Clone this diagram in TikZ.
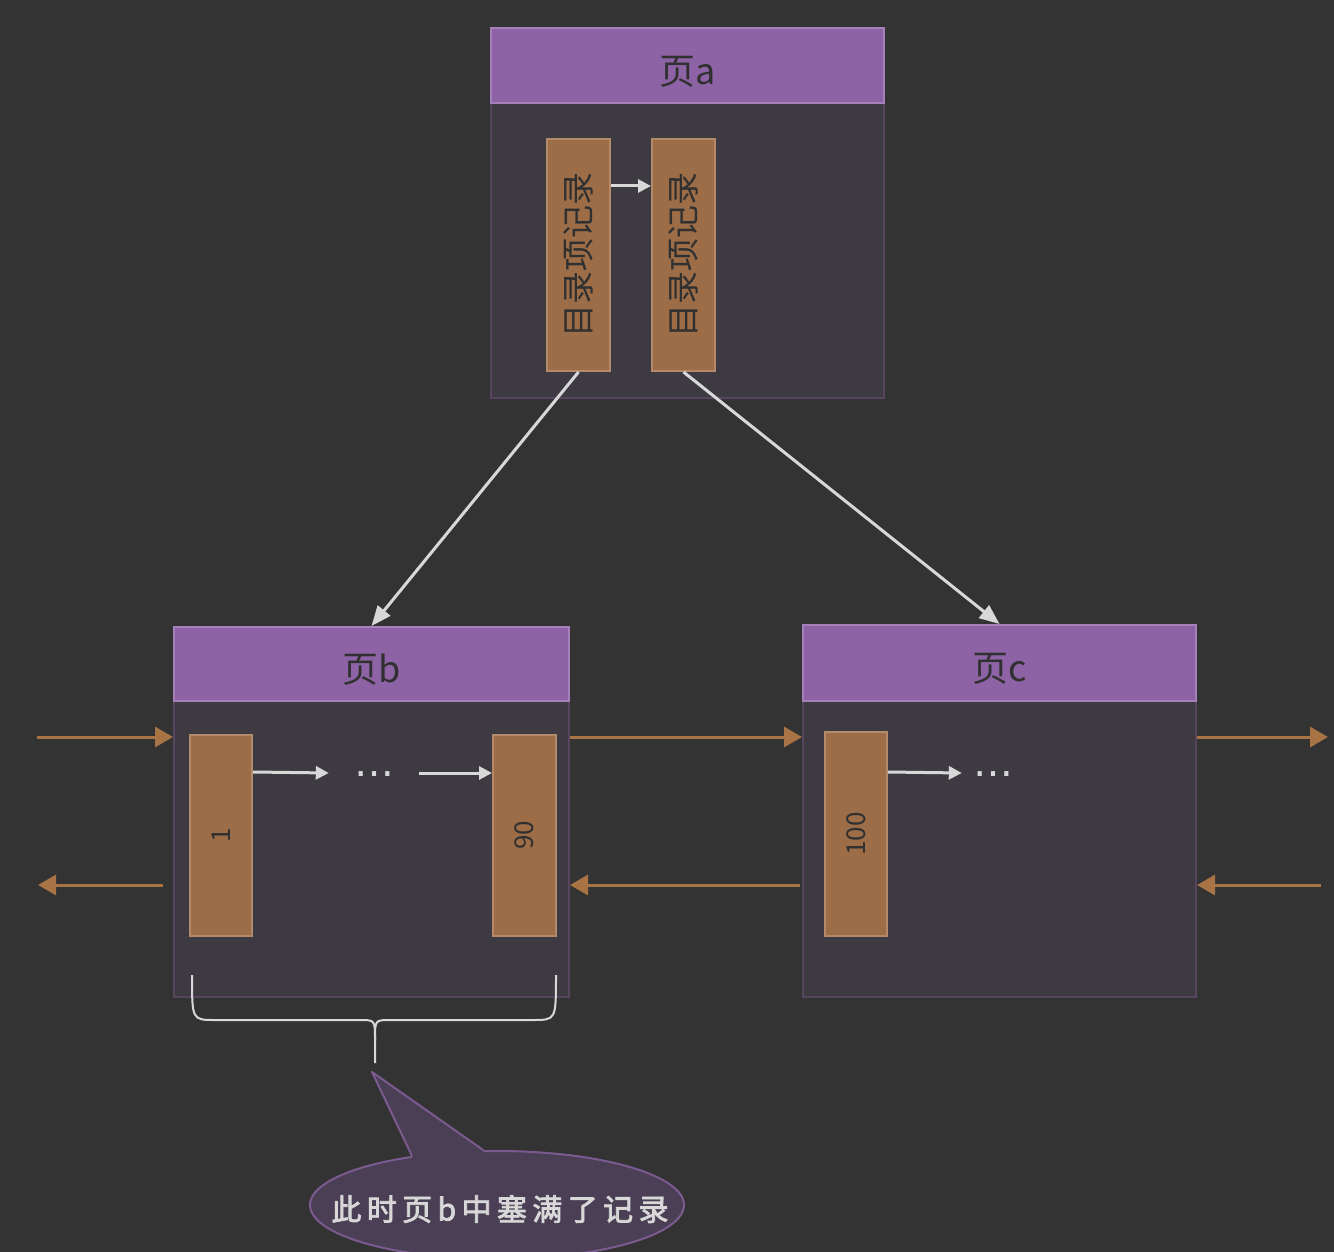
\documentclass[tikz,border=0pt]{standalone}
\usepackage{fontspec}
\newfontfamily\cjk{Noto Sans CJK SC}
\newfontfamily\notefont[LetterSpace=18,FakeBold=2.5]{Noto Sans CJK SC}
\newfontfamily\dotfont{DejaVu Sans}
\usetikzlibrary{arrows.meta}
\usetikzlibrary{shapes.geometric}
\definecolor{bg}{HTML}{333333}
\definecolor{pagefill}{HTML}{3E3A41}
\definecolor{pageline}{HTML}{57455F}
\definecolor{headfill}{HTML}{8D63A5}
\definecolor{headline}{HTML}{A680BB}
\definecolor{entryfill}{HTML}{9C6D47}
\definecolor{entryline}{HTML}{B48A6A}
\definecolor{inktext}{HTML}{303030}
\definecolor{linkgray}{HTML}{D8D8D8}
\definecolor{chainbrown}{HTML}{A87446}
\definecolor{notefill}{HTML}{4B3F55}
\definecolor{noteline}{HTML}{7B5A90}

\begin{document}
\begin{tikzpicture}[x=1pt,y=-1pt,
	page/.style={draw=pageline,fill=pagefill,line width=2pt,inner sep=0pt},
	pagehead/.style={draw=headline,fill=headfill,line width=2pt,inner sep=0pt,text=inktext,text height=40pt,font=\cjk\fontsize{36}{40}\selectfont},
	entry/.style={draw=entryline,fill=entryfill,line width=2pt,inner sep=0pt,text=inktext},
	link/.style={draw=linkgray,line width=3pt,-{Triangle[length=13pt,width=13pt]}},
	chain/.style={draw=chainbrown,line width=3pt,-{Triangle[length=18pt,width=20pt]}},
	dots/.style={inner sep=0pt,text=linkgray,text height=26pt,text depth=0pt,font=\dotfont\fontsize{40}{44}\selectfont}]
	\fill[bg] (0,0) rectangle (1334,1252);
	\useasboundingbox (0,0) rectangle (1334,1252);
	% page a
	\node (pagea) [page,minimum width=393pt,minimum height=370pt] at (687.5,213) {};
	\node (pageahd) [pagehead,minimum width=393pt,minimum height=75pt] at (687.5,65.5) {页a};
	\node (a1) [entry,minimum width=63pt,minimum height=232pt,font=\cjk\fontsize{33}{36}\selectfont] at (578.5,255) {\rotatebox{90}{目录项记录}};
	\node (a2) [entry,minimum width=63pt,minimum height=232pt,font=\cjk\fontsize{33}{36}\selectfont] at (683.5,255) {\rotatebox{90}{目录项记录}};
	\draw[link] ([yshift=-48pt]a1.north east) -- ([yshift=-48pt]a2.north west);
	% page b
	\node (pageb) [page,minimum width=395pt,minimum height=370pt] at (371.5,812) {};
	\node (pagebhd) [pagehead,minimum width=395pt,minimum height=74pt] at (371.5,664) {页b};
	\node (b1) [entry,minimum width=62pt,minimum height=201pt,font=\cjk\fontsize{26}{28}\selectfont] at (221,835.5) {\rotatebox{90}{1}};
	\node (b90) [entry,minimum width=63pt,minimum height=201pt,font=\cjk\fontsize{26}{28}\selectfont] at (524.5,835.5) {\rotatebox{90}{90}};
	\node (dotsb) [dots,minimum width=90pt] at (374,773) {⋯};
	\draw[link] ([yshift=-38pt]b1.north east) -- (dotsb.west);
	\draw[link] (dotsb.east) -- (dotsb.east -| b90.west);
	% page c
	\node (pagec) [page,minimum width=393pt,minimum height=372pt] at (999.5,811) {};
	\node (pagechd) [pagehead,minimum width=393pt,minimum height=76pt] at (999.5,663) {页c};
	\node (c100) [entry,minimum width=62pt,minimum height=204pt,font=\cjk\fontsize{26}{28}\selectfont] at (856,834) {\rotatebox{90}{100}};
	\node (dotsc) [dots,minimum width=62pt] at (993,773) {⋯};
	\draw[link] ([yshift=-41pt]c100.north east) -- (dotsc.west);
	% a -> b, a -> c
	\draw[link,-{Triangle[length=20pt,width=16pt]}] (a1.south) -- (pagebhd.north);
	\draw[link,-{Triangle[length=20pt,width=16pt]}] (a2.south) -- (pagechd.north);
	% neighbours
	\coordinate (lin) at (37,737);
	\coordinate (lout) at (38,885);
	\coordinate (rout) at (1328,737);
	\coordinate (rin) at (1321,885);
	\draw[chain] (lin) -- (lin -| pageb.west);
	\draw[chain,shorten <=10pt] (lout -| pageb.west) -- (lout);
	\draw[chain] (lin -| pageb.east) -- (lin -| pagec.west);
	\draw[chain,shorten <=2pt] (lout -| pagec.west) -- (lout -| pageb.east);
	\draw[chain] (rout -| pagec.east) -- (rout);
	\draw[chain] (rin) -- (rin -| pagec.east);
	% brace under b
	\draw[linkgray,line width=2pt] (192,975) .. controls (192,1020) .. (215,1020) -- (360,1020) .. controls (375,1020) .. (375,1040) -- (375,1063);
	\draw[linkgray,line width=2pt] (556,975) .. controls (556,1020) .. (533,1020) -- (390,1020) .. controls (375,1020) .. (375,1040);
	% note
	\coordinate (tip) at (372,1072);
	\node (note) [ellipse,draw=noteline,fill=notefill,line width=2pt,inner sep=0pt,minimum width=374pt,minimum height=108pt] at (497,1205) {};
	\fill[notefill] (note.150) -- (tip) -- (note.104) -- ([yshift=-12pt]note.104) -- ([yshift=-12pt]note.150) -- cycle;
	\draw[noteline,line width=2pt,line join=round] (note.150) -- (tip) -- (note.104);
	\node (notetext) [text=linkgray,font=\notefont\fontsize{30}{32}\selectfont] at ([xshift=3pt,yshift=-4pt]note.center) {此时页b中塞满了记录};
\end{tikzpicture}
\end{document}
